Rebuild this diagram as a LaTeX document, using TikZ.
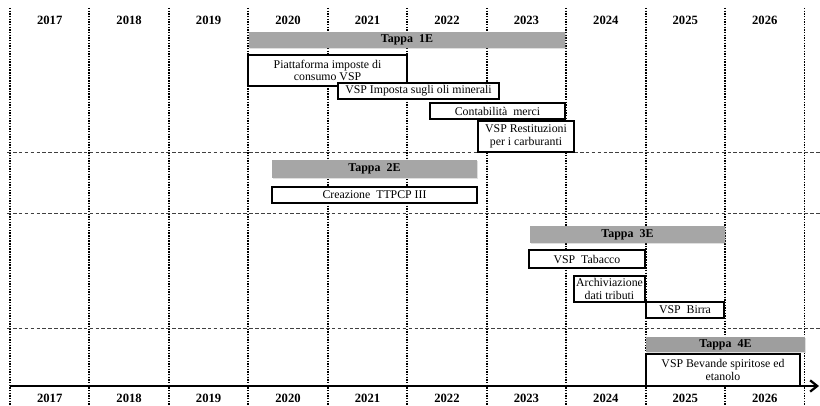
\documentclass[tikz,border=0pt]{standalone}
\usepackage{fontspec}
\setmainfont{Liberation Serif}
\usetikzlibrary{arrows.meta,shadows}

\begin{document}
\begin{tikzpicture}[x=0.025cm,y=-0.025cm,
    yearlbl/.style={font=\fontsize{9}{10}\selectfont\bfseries},
    vgrid/.style={line width=1.4pt, dash pattern=on 1pt off 0.9pt},
    hgrid/.style={line width=0.5pt, black!75, dash pattern=on 2.6pt off 1.6pt},
    tappa/.style={fill=black!35, inner sep=0pt, font=\fontsize{8.5}{9}\selectfont\bfseries,
        drop shadow={shadow xshift=0.8pt, shadow yshift=-1pt, opacity=0.25}},
    task/.style={draw, line width=0.9pt, fill=white, inner sep=0pt, align=center,
        font=\fontsize{8.4}{9}\selectfont,
        drop shadow={shadow xshift=1pt, shadow yshift=-1pt, opacity=0.35}}]
    \useasboundingbox (0,0) rectangle (820,406);
    \fill[white] (0,0) rectangle (820,406);

    % Draw grid
    \foreach \i in {0,...,10}
        \draw[vgrid] (10+79.45*\i,8) -- (10+79.45*\i,406);
    \foreach \y in {152,213,328}
        \draw[hgrid] (7,\y) -- (820,\y);

    % Draw years
    \foreach \i/\yr in {0/2017,1/2018,2/2019,3/2020,4/2021,5/2022,6/2023,7/2024,8/2025,9/2026} {
        \node[yearlbl] (top\yr) at (49.7+79.45*\i,20) {\yr};
        \node[yearlbl] (bot\yr) at (49.7+79.45*\i,398) {\yr};
    }

    % Draw time axis
    \coordinate (axisL) at (10,386);
    \coordinate (axisR) at (819,386);
    \draw[line width=2pt, -{Straight Barb[length=5pt,width=8pt,line width=1.6pt]}] (axisL) -- (axisR);

    % Draw Tappa 1E
    \node[tappa, minimum width=7.9cm, minimum height=0.4cm] (t1) at (407,40) {Tappa\ \ 1E};
    \node[task, minimum width=3.975cm, minimum height=0.775cm] (piatt) at (327.5,70.5) {Piattaforma imposte di\\ consumo VSP};
    \node[task, minimum width=4.025cm, minimum height=0.4cm] (oli) at (418.5,91) {VSP\ Imposta sugli\ oli\ minerali};
    \node[task, minimum width=3.375cm, minimum height=0.4cm] (merci) at (497.5,111) {Contabilità\ \ merci};
    \node[task, minimum width=2.4cm, minimum height=0.775cm] (restit) at (526,136.5) {VSP\ Restituzioni\\ per i carburanti};

    % Draw Tappa 2E
    \node[tappa, minimum width=5.125cm, minimum height=0.45cm] (t2) at (374.5,169) {Tappa\ \ 2E};
    \node[task, minimum width=5.125cm, minimum height=0.4cm] (ttpcp) at (374.5,195) {Creazione\ \ TTPCP III};

    % Draw Tappa 3E
    \node[tappa, minimum width=4.875cm, minimum height=0.425cm] (t3) at (627.5,234.5) {Tappa\ \ 3E};
    \node[task, minimum width=2.9cm, minimum height=0.45cm] (tabacco) at (587,259) {VSP\ \ Tabacco};
    \node[task, minimum width=1.775cm, minimum height=0.65cm] (archiv) at (609.5,289) {Archiviazione\\ dati tributi};
    \node[task, minimum width=1.95cm, minimum height=0.4cm] (birra) at (685,310) {VSP\ \ Birra};

    % Draw Tappa 4E
    \node[tappa, fill=black!38, minimum width=3.975cm, minimum height=0.375cm] (t4) at (725.5,344.5) {Tappa\ \ 4E};
    \node[task, minimum width=3.85cm, minimum height=0.8cm] (bevande) at (723,370) {VSP\ Bevande\ spiritose ed\\ etanolo};
\end{tikzpicture}
\end{document}
